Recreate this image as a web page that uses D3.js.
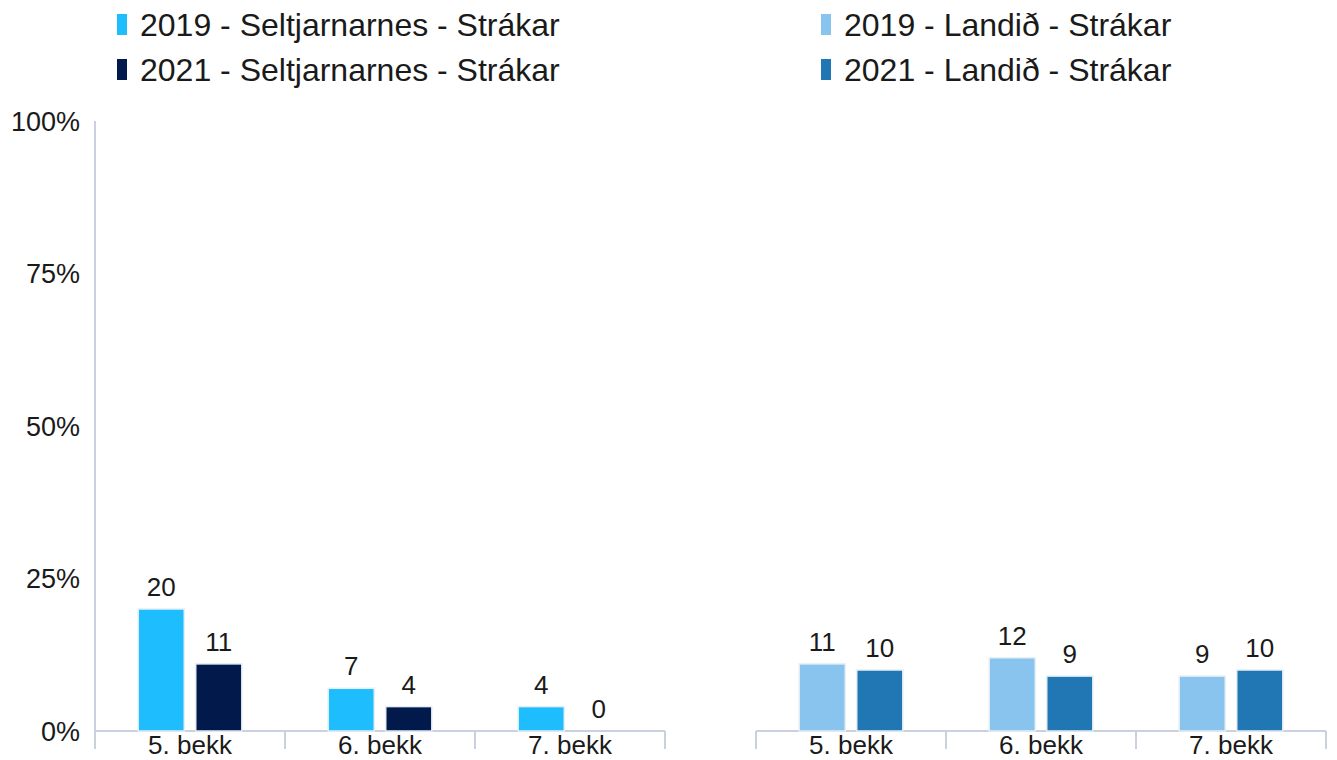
<!DOCTYPE html>
<html>
<head>
<meta charset="utf-8">
<script src="https://cdn.jsdelivr.net/npm/d3@7"></script>
<style>
  body { margin: 0; background: #fff; }
  text { font-family: "Liberation Sans", Arial, sans-serif; fill: #1a1a1a; }
</style>
</head>
<body>
<svg id="chart" width="1337" height="760"></svg>
<script>
// categories and series
const grades = ['5. bekk', '6. bekk', '7. bekk'];
const yTicks = [0, 25, 50, 75, 100];

const seltSeries = ['2019 - Seltjarnarnes - Strákar', '2021 - Seltjarnarnes - Strákar'];
const selt2019 = [20, 7, 4];
const selt2021 = [11, 4, 0];

const landSeries = ['2019 - Landið - Strákar', '2021 - Landið - Strákar'];
const land2019 = [11, 12, 9];
const land2021 = [10, 9, 10];

const seltColors = ['#1ebdfd', '#021a4b'];
const landColors = ['#89c4ef', '#2077b4'];

const svg = d3.select('#chart');
const axisColor = '#c9d1e0';

const y = d3.scaleLinear().domain([0, 100]).range([731, 121]);

// y axis (left panel only)
svg.append('line')
  .attr('x1', 95).attr('x2', 95)
  .attr('y1', y(100)).attr('y2', y(0))
  .attr('stroke', axisColor).attr('stroke-width', 2);

svg.append('g')
  .selectAll('text')
  .data(yTicks)
  .join('text')
  .attr('x', 80)
  .attr('y', d => y(d))
  .attr('dy', '0.36em')
  .attr('text-anchor', 'end')
  .attr('font-size', 27)
  .text(d => d + '%');

// Draw one panel of grouped bars
const drawPanel = (x0, x1, seriesNames, seriesValues, colors) => {
  const x = d3.scaleBand().domain(grades).range([x0, x1]).padding(0);
  const xs = d3.scaleBand().domain(seriesNames).range([0, x.bandwidth()])
    .paddingInner(0.2).paddingOuter(0.75);

  const g = svg.append('g');

  // x axis line and band ticks
  g.append('line')
    .attr('x1', x0).attr('x2', x1)
    .attr('y1', y(0)).attr('y2', y(0))
    .attr('stroke', axisColor).attr('stroke-width', 2);

  const edges = grades.map(d => x(d)).concat([x1]);
  g.selectAll('line.tick')
    .data(edges)
    .join('line')
    .attr('class', 'tick')
    .attr('x1', d => d).attr('x2', d => d)
    .attr('y1', y(0)).attr('y2', y(0) + 18)
    .attr('stroke', axisColor).attr('stroke-width', 2);

  g.selectAll('text.cat')
    .data(grades)
    .join('text')
    .attr('class', 'cat')
    .attr('x', d => x(d) + x.bandwidth() / 2)
    .attr('y', 754)
    .attr('text-anchor', 'middle')
    .attr('font-size', 26)
    .text(d => d);

  const rows = [];
  grades.forEach((grade, i) => {
    seriesNames.forEach((s, j) => {
      rows.push({ grade, series: s, value: seriesValues[j][i], color: colors[j] });
    });
  });

  g.selectAll('rect')
    .data(rows)
    .join('rect')
    .attr('x', d => x(d.grade) + xs(d.series))
    .attr('width', xs.bandwidth())
    .attr('y', d => y(d.value))
    .attr('height', d => y(0) - y(d.value))
    .attr('fill', d => d.color)
    .attr('stroke', d => d.value > 0 ? '#e6eef6' : 'none')
    .attr('stroke-width', 1.5);

  g.selectAll('text.val')
    .data(rows)
    .join('text')
    .attr('class', 'val')
    .attr('x', d => x(d.grade) + xs(d.series) + xs.bandwidth() / 2)
    .attr('y', d => y(d.value) - 13)
    .attr('text-anchor', 'middle')
    .attr('font-size', 26)
    .text(d => d.value);
};

drawPanel(95, 665, seltSeries, [selt2019, selt2021], seltColors);
drawPanel(756, 1326, landSeries, [land2019, land2021], landColors);

// Legends
const drawLegend = (lx, names, colors) => {
  const lg = svg.append('g');
  lg.selectAll('rect')
    .data(names)
    .join('rect')
    .attr('x', lx)
    .attr('y', (d, i) => 14 + i * 45)
    .attr('width', 10)
    .attr('height', 21)
    .attr('fill', (d, i) => colors[i]);
  lg.selectAll('text')
    .data(names)
    .join('text')
    .attr('x', lx + 23)
    .attr('y', (d, i) => 24 + i * 45)
    .attr('dy', '0.36em')
    .attr('font-size', 32)
    .text(d => d);
};

drawLegend(117, seltSeries, seltColors);
drawLegend(821, landSeries, landColors);
</script>
</body>
</html>
